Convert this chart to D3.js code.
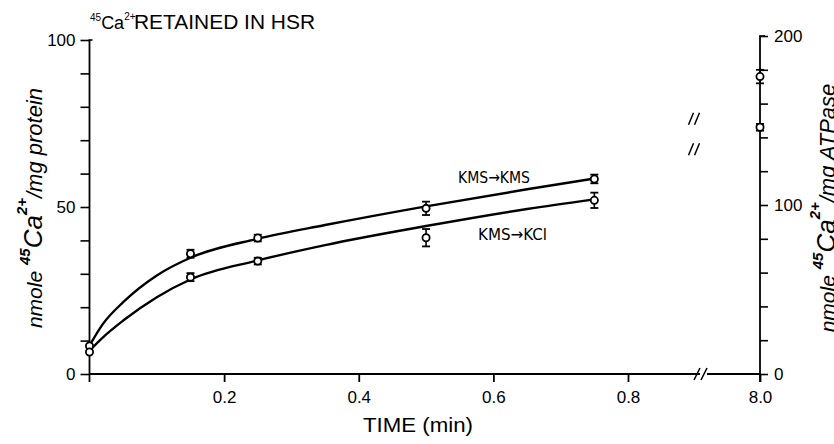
<style>
  body { margin: 0; }
</style>
<script src="https://d3js.org/d3.v7.min.js"></script>

<svg id="main_canvas" width=834 height=444></svg>

<script>
  "use strict";
  const FONT = "'Liberation Sans', Arial, sans-serif";
  const NARROW = "'Liberation Sans Narrow', 'DejaVu Sans Condensed', 'Liberation Sans', sans-serif";

  // data (left axis: nmole/mg protein, 8.0 min points on right axis)
  const times = [0, 0.15, 0.25, 0.5, 0.75];
  const kmsKms = [8.4, 36, 40.7, 49.6, 58.4];
  const kmsKmsErr = [0, 1.2, 1, 2, 1.3];
  const kmsKcl = [6.6, 29, 33.8, 40.8, 52];
  const kmsKclErr = [0, 1.2, 1, 2.6, 2.3];
  const longTime = 8.0;
  const kmsKmsLong = 176; // nmole/mg ATPase
  const kmsKmsLongErr = 4;
  const kmsKclLong = 146;
  const kmsKclLongErr = 2;

  // smooth fitted curves as drawn
  const fitTimes = [0, 0.02, 0.05, 0.1, 0.15, 0.25, 0.35, 0.5, 0.65, 0.75];
  const fitKms = [8.5, 15, 21.5, 29.5, 34.8, 40.5, 44.6, 50.2, 55.3, 58.5];
  const fitKcl = [7, 11, 16, 23, 28.3, 34, 38.6, 44.3, 49.4, 52.3];

  const xTicks = [0.2, 0.4, 0.6, 0.8, 8.0];

  const canvas = d3.select("#main_canvas")
    .attr("style", "background-color: white");

  const x = d3.scaleLinear().domain([0, 0.8, 8]).range([89.5, 628, 760]);
  const yLeft = d3.scaleLinear().domain([0, 100]).range([374, 40]);
  const yRight = d3.scaleLinear().domain([0, 200]).range([374, 36]);

  // X axis
  const xAxis = canvas.append("g")
    .attr("transform", `translate(0, ${yLeft(0)})`)
    .call(d3.axisBottom(x).tickValues(xTicks).tickSize(8).tickPadding(9)
      .tickFormat(d3.format(".1f")));
  xAxis.select(".domain").remove();
  xAxis.selectAll("line").attr("stroke-width", 1.8);
  xAxis.selectAll("text").attr("font-family", FONT).attr("font-size", 17);

  // axis line with a break
  canvas.append("line")
    .attr("x1", 89.5).attr("x2", 700).attr("y1", yLeft(0)).attr("y2", yLeft(0))
    .attr("stroke", "black").attr("stroke-width", 1.8);
  canvas.append("line")
    .attr("x1", 707).attr("x2", 760).attr("y1", yLeft(0)).attr("y2", yLeft(0))
    .attr("stroke", "black").attr("stroke-width", 1.8);
  [697, 704].forEach(bx => {
    canvas.append("line")
      .attr("x1", bx - 3).attr("x2", bx + 3)
      .attr("y1", yLeft(0) + 6).attr("y2", yLeft(0) - 6)
      .attr("stroke", "black").attr("stroke-width", 1.6);
  });

  // Left axis
  const leftAxis = canvas.append("g")
    .attr("transform", `translate(${x(0)}, 0)`)
    .call(d3.axisLeft(yLeft).tickValues(d3.range(0, 101, 10)).tickSize(9).tickPadding(5)
      .tickFormat(d => (d % 50 === 0 ? d : "")));
  leftAxis.select(".domain").remove();
  leftAxis.selectAll("line").attr("stroke-width", 1.6);
  leftAxis.selectAll("text").attr("font-family", FONT).attr("font-size", 17);
  canvas.append("line")
    .attr("x1", x(0)).attr("x2", x(0)).attr("y1", yLeft(100)).attr("y2", yLeft(0) + 8)
    .attr("stroke", "black").attr("stroke-width", 1.8);
  canvas.append("line")
    .attr("x1", x(0) - 1).attr("x2", x(0) + 3).attr("y1", yLeft(100)).attr("y2", yLeft(100))
    .attr("stroke", "black").attr("stroke-width", 1.6);

  // Right axis
  const rightAxis = canvas.append("g")
    .attr("transform", `translate(${x(8)}, 0)`)
    .call(d3.axisRight(yRight).tickValues(d3.range(0, 201, 20)).tickSize(8).tickPadding(6)
      .tickFormat(d => (d % 100 === 0 ? d : "")));
  rightAxis.select(".domain").remove();
  rightAxis.selectAll("line").attr("stroke-width", 1.6);
  rightAxis.selectAll("text").attr("font-family", FONT).attr("font-size", 17);
  canvas.append("line")
    .attr("x1", x(8)).attr("x2", x(8)).attr("y1", yRight(200)).attr("y2", yLeft(0) + 8)
    .attr("stroke", "black").attr("stroke-width", 1.8);
  canvas.append("line")
    .attr("x1", x(8) - 1).attr("x2", x(8) + 5).attr("y1", yRight(200)).attr("y2", yRight(200))
    .attr("stroke", "black").attr("stroke-width", 1.6);

  // fitted curves
  const line = d3.line().curve(d3.curveMonotoneX)
    .x(d => x(d[0])).y(d => yLeft(d[1]));
  [fitKms, fitKcl].forEach(vals => {
    canvas.append("path")
      .datum(fitTimes.map((t, i) => [t, vals[i]]))
      .attr("d", line)
      .attr("fill", "none")
      .attr("stroke", "black")
      .attr("stroke-width", 2.4);
  });

  // points with error bars
  const drawPoint = (cx, cy, errPx) => {
    if (errPx > 0) {
      canvas.append("line")
        .attr("x1", cx).attr("x2", cx).attr("y1", cy - errPx).attr("y2", cy + errPx)
        .attr("stroke", "black").attr("stroke-width", 1.6);
      [cy - errPx, cy + errPx].forEach(yy => {
        canvas.append("line")
          .attr("x1", cx - 4).attr("x2", cx + 4).attr("y1", yy).attr("y2", yy)
          .attr("stroke", "black").attr("stroke-width", 1.8);
      });
    }
    canvas.append("circle")
      .attr("cx", cx).attr("cy", cy).attr("r", 3.6)
      .attr("fill", "white").attr("stroke", "black").attr("stroke-width", 1.8);
  };
  times.forEach((t, i) => {
    drawPoint(x(t), yLeft(kmsKms[i]), yLeft(0) - yLeft(kmsKmsErr[i]));
    drawPoint(x(t), yLeft(kmsKcl[i]), yLeft(0) - yLeft(kmsKclErr[i]));
  });
  drawPoint(x(longTime), yRight(kmsKmsLong), yRight(0) - yRight(kmsKmsLongErr));
  drawPoint(x(longTime), yRight(kmsKclLong), yRight(0) - yRight(kmsKclLongErr));

  // break marks in the plot
  [151, 133].forEach(v => {
    [-3, 3].forEach(dx => {
      canvas.append("line")
        .attr("x1", 694 + dx - 2.5).attr("x2", 694 + dx + 2.5)
        .attr("y1", yRight(v) + 6).attr("y2", yRight(v) - 6)
        .attr("stroke", "black").attr("stroke-width", 1.5);
    });
  });

  // curve labels
  canvas.append("text")
    .attr("x", 458).attr("y", 183)
    .attr("font-family", NARROW).attr("font-size", 16)
    .attr("textLength", 72).attr("lengthAdjust", "spacingAndGlyphs")
    .text("KMS→KMS");
  canvas.append("text")
    .attr("x", 478).attr("y", 240)
    .attr("font-family", NARROW).attr("font-size", 16)
    .attr("textLength", 69).attr("lengthAdjust", "spacingAndGlyphs")
    .text("KMS→KCl");

  // title
  const title = canvas.append("text")
    .attr("x", 90).attr("y", 29)
    .attr("font-family", FONT).attr("font-size", 18);
  title.append("tspan").attr("font-size", 10).attr("dy", -8).text("45");
  title.append("tspan").attr("dy", 8).text("Ca");
  title.append("tspan").attr("font-size", 10).attr("dy", -9).text("2+");
  canvas.append("text")
    .attr("x", 134).attr("y", 29)
    .attr("font-family", FONT).attr("font-size", 20)
    .attr("textLength", 181).attr("lengthAdjust", "spacingAndGlyphs")
    .text("RETAINED IN HSR");

  // x label
  canvas.append("text")
    .attr("x", 418).attr("y", 432)
    .attr("text-anchor", "middle")
    .attr("font-family", FONT).attr("font-size", 20)
    .attr("textLength", 110).attr("lengthAdjust", "spacingAndGlyphs")
    .text("TIME (min)");

  // y labels
  const yLabel = (tx, ty, tail) => {
    const t = canvas.append("text")
      .attr("transform", `translate(${tx}, ${ty}) rotate(-90)`)
      .attr("text-anchor", "middle")
      .attr("font-family", FONT).attr("font-size", 21)
      .attr("font-style", "italic");
    t.append("tspan").text("nmole ");
    t.append("tspan").attr("font-size", 15).attr("font-weight", "bold").attr("dy", -12).text("45");
    t.append("tspan").attr("font-size", 26).attr("dy", 12).text("Ca");
    t.append("tspan").attr("font-size", 15).attr("font-weight", "bold").attr("dy", -15).text("2+");
    t.append("tspan").attr("font-size", 22).attr("dy", 15).text(tail);
  };
  yLabel(42, 208, "/mg protein");
  yLabel(835, 208, "/mg ATPase");
</script>
